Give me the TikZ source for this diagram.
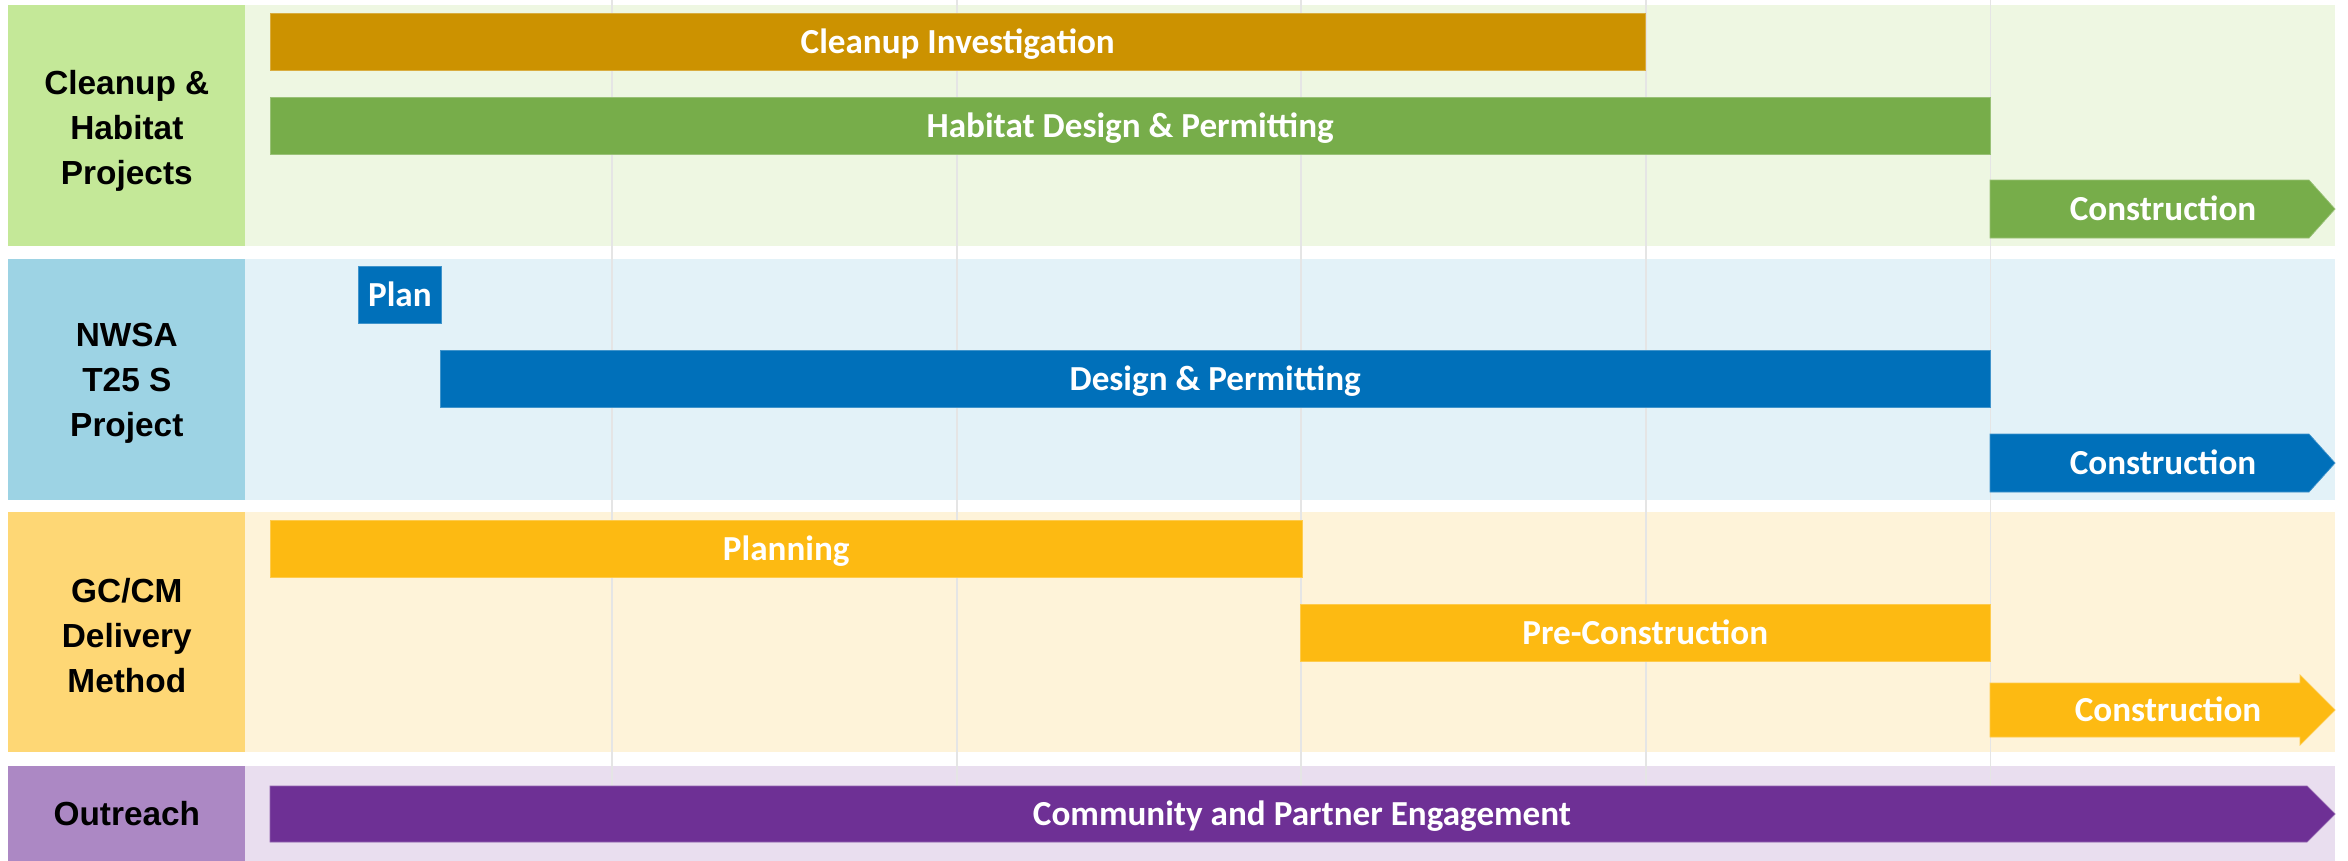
\documentclass[tikz,border=0pt]{standalone}
\usepackage{fontspec}
\usepackage{tikz}
\usetikzlibrary{positioning}
\setmainfont{Carlito}
\newfontfamily\headfont{Liberation Sans}

\definecolor{greenhead}{HTML}{C4E898}
\definecolor{greenback}{HTML}{EEF7E2}
\definecolor{cleanup}{HTML}{CC9200}
\definecolor{habitat}{HTML}{77AD4A}
\definecolor{bluehead}{HTML}{9DD3E4}
\definecolor{blueback}{HTML}{E3F2F8}
\definecolor{nwsa}{HTML}{0070BA}
\definecolor{yellowhead}{HTML}{FED775}
\definecolor{yellowback}{HTML}{FEF3D9}
\definecolor{gccm}{HTML}{FDBA12}
\definecolor{purplehead}{HTML}{AC88C4}
\definecolor{purpleback}{HTML}{E9DEEF}
\definecolor{outreach}{HTML}{6E3095}

\begin{document}
\begin{tikzpicture}[
    x=0.02cm, y=-0.02cm,
    rowhead/.style={rectangle, anchor=north west, inner sep=0pt, minimum width=4.74cm},
    headtext/.style={align=center, inner sep=0pt, font=\headfont\bfseries\fontsize{19}{25.5}\selectfont},
    rowback/.style={rectangle, anchor=north west, inner sep=0pt, minimum width=41.8cm},
    bar/.style={rectangle, anchor=west, inner sep=0pt, minimum height=1.14cm, fill=#1, draw=#1!75!white,
        line width=0.4pt, text=white, text height=13.6pt, text depth=0pt,
        font=\bfseries\fontsize{20}{24}\selectfont},
    arrowbar/.style={fill=#1, draw=#1!75!white, line width=0.4pt},
    barlabel/.style={text=white, text height=13.6pt, text depth=0pt, font=\bfseries\fontsize{20}{24}\selectfont},
    grid/.style={draw=black!10, line width=0.6pt}
]
    \useasboundingbox (0,0) rectangle (2348,860);

    % Rows
    \node[rowhead, fill=greenhead, minimum height=4.82cm] (h1) at (8,5) {};
    \node[rowback, fill=greenback, minimum height=4.82cm] (r1) at (245,5) {};
    \node[rowhead, fill=bluehead, minimum height=4.82cm] (h2) at (8,259) {};
    \node[rowback, fill=blueback, minimum height=4.82cm] (r2) at (245,259) {};
    \node[rowhead, fill=yellowhead, minimum height=4.8cm] (h3) at (8,512) {};
    \node[rowback, fill=yellowback, minimum height=4.8cm] (r3) at (245,512) {};
    \node[rowhead, fill=purplehead, minimum height=1.9cm] (h4) at (8,766) {};
    \node[rowback, fill=purpleback, minimum height=1.9cm] (r4) at (245,766) {};

    \node[headtext] (t1) at ([yshift=-3pt]h1.center) {Cleanup \&\\Habitat\\Projects};
    \node[headtext] (t2) at ([yshift=-2pt]h2.center) {NWSA\\T25 S\\Project};
    \node[headtext] (t3) at ([yshift=-2pt]h3.center) {GC/CM\\Delivery\\Method};
    \node[headtext] (t4) at (h4.center) {Outreach};

    % Grid
    \foreach \x in {612,957,1301,1646,1990}
        \draw[grid] (\x,0) -- (\x,790);

    % Cleanup & Habitat Projects
    \node[bar=cleanup, minimum width=27.5cm] (ci) at (270,42) {Cleanup Investigation};
    \node[bar=habitat, minimum width=34.4cm] (hd) at (270,125.5) {Habitat Design \& Permitting};
    \filldraw[arrowbar=habitat] (1990,180) -- (2309,180) -- (2335,209) -- (2309,238) -- (1990,238) -- cycle;
    \node[barlabel] (c1) at (2163,209) {Construction};

    % NWSA T25 S Project
    \node[bar=nwsa, minimum width=1.66cm] (pl) at (358,295) {Plan};
    \node[bar=nwsa, minimum width=31.0cm] (dp) at (440,379) {Design \& Permitting};
    \filldraw[arrowbar=nwsa] (1990,434) -- (2309,434) -- (2335,463) -- (2309,492) -- (1990,492) -- cycle;
    \node[barlabel] (c2) at (2163,463) {Construction};

    % GC/CM Delivery Method
    \node[bar=gccm, minimum width=20.64cm] (pn) at (270,549) {Planning};
    \node[bar=gccm, minimum width=13.8cm] (pc) at (1300,633) {Pre-Construction};
    \filldraw[arrowbar=gccm] (1990,683) -- (2300,683) -- (2300,675) -- (2335,710) -- (2300,745)
        -- (2300,737) -- (1990,737) -- cycle;
    \node[barlabel] (c3) at (2168,710) {Construction};

    % Outreach
    \filldraw[arrowbar=outreach] (270,786) -- (2307,786) -- (2335,814) -- (2307,842) -- (270,842) -- cycle;
    \node[barlabel] (ce) at (1302,814) {Community and Partner Engagement};
\end{tikzpicture}
\end{document}
